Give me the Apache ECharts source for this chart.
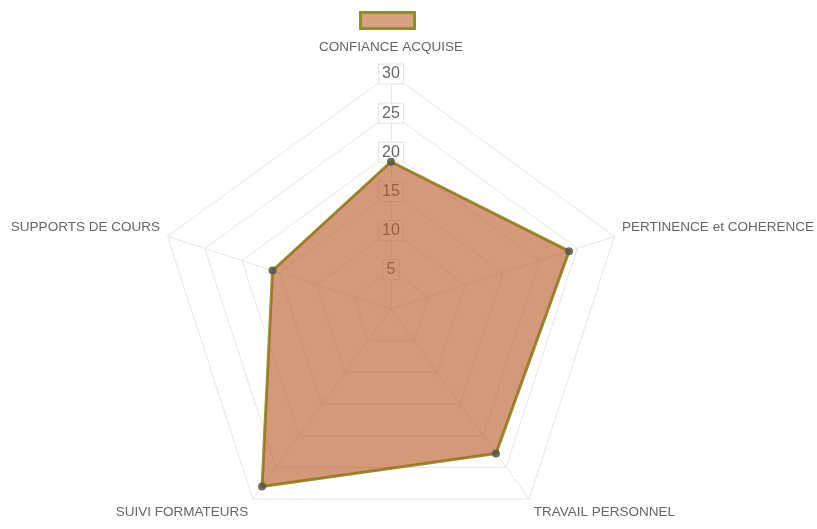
<!DOCTYPE html>
<html>
<head>
<meta charset="utf-8">
<script src="https://cdn.jsdelivr.net/npm/echarts@6/dist/echarts.min.js"></script>
<style>
  html, body { margin: 0; padding: 0; background: #fff; }
  #chart { width: 817px; height: 529px; }
</style>
</head>
<body>
<div id="chart"></div>
<script>
// axes in clockwise order, starting at the top
const axes = ['CONFIANCE ACQUISE', 'PERTINENCE et COHERENCE', 'TRAVAIL PERSONNEL', 'SUIVI FORMATEURS', 'SUPPORTS DE COURS'];
const scores = [18.8, 23.9, 22.8, 28.0, 15.9];
const scaleMax = 30;
const scaleStep = 5;

// echarts lays out radar indicators counter-clockwise, so keep the first and reverse the rest
const order = [0].concat(axes.map((_, i) => i).slice(1).reverse());

// nudge names a bit to sit like the original
function nameStyle(name) {
  const i = axes.indexOf(name);
  if (i === 0) return 'top';
  if (i === 1 || i === 4) return 'side';
  return 'bottom';
}

const chart = echarts.init(document.getElementById('chart'));
const option = {
  animation: false,
  textStyle: { fontFamily: 'Liberation Sans, Arial, sans-serif' },
  legend: {
    top: 11,
    left: 359,
    padding: 0,
    icon: 'rect',
    itemWidth: 54,
    itemHeight: 16,
    formatter: () => '',
    selectedMode: false,
    itemStyle: {
      color: 'rgba(190,100,45,0.6)',
      borderColor: '#8e8e2e',
      borderWidth: 3
    },
    data: ['scores']
  },
  // polar only used to draw the tick labels along the top axis
  polar: { center: [391, 309], radius: 235 },
  angleAxis: { show: false, startAngle: 90, min: 0, max: 360 },
  radiusAxis: {
    min: 0,
    max: scaleMax,
    interval: scaleStep,
    z: 0,
    axisLine: { show: false },
    axisTick: { show: false },
    splitLine: { show: false },
    axisLabel: {
      showMinLabel: false,
      margin: 0,
      align: 'center',
      verticalAlign: 'middle',
      fontSize: 16,
      color: '#666',
      backgroundColor: '#fff',
      borderColor: '#e4e4e4',
      borderWidth: 1,
      padding: [2, 3, 1, 3]
    }
  },
  radar: {
    center: [391, 309],
    radius: 235,
    startAngle: 90,
    splitNumber: scaleMax / scaleStep,
    shape: 'polygon',
    indicator: order.map(i => ({ name: axes[i], min: 0, max: scaleMax })),
    axisName: {
      color: '#666',
      fontSize: 13.5,
      formatter: name => '{' + nameStyle(name) + '|' + name + '}',
      rich: {
        top: { fontSize: 13.5, color: '#666', padding: [0, 0, 12, 0] },
        side: { fontSize: 13.5, color: '#666', padding: [0, 0, 14, 0] },
        bottom: { fontSize: 13.5, color: '#666', padding: [13, 0, 0, 0] }
      }
    },
    nameGap: 8,
    axisLine: { lineStyle: { color: '#e6e6e6' } },
    splitLine: { lineStyle: { color: '#e6e6e6' } },
    splitArea: { show: false },
    axisLabel: { show: false }
  },
  series: [
    {
      name: 'scores',
      type: 'radar',
      z: 3,
      symbol: 'circle',
      symbolSize: 8,
      itemStyle: { color: 'rgba(85,85,70,0.85)', borderWidth: 0 },
      lineStyle: { color: '#929230', width: 3 },
      areaStyle: { color: 'rgb(182,92,38)', opacity: 0.62 },
      emphasis: { disabled: true },
      data: [{ value: order.map(i => scores[i]), name: 'scores' }]
    }
  ]
};
chart.setOption(option);
</script>
</body>
</html>
